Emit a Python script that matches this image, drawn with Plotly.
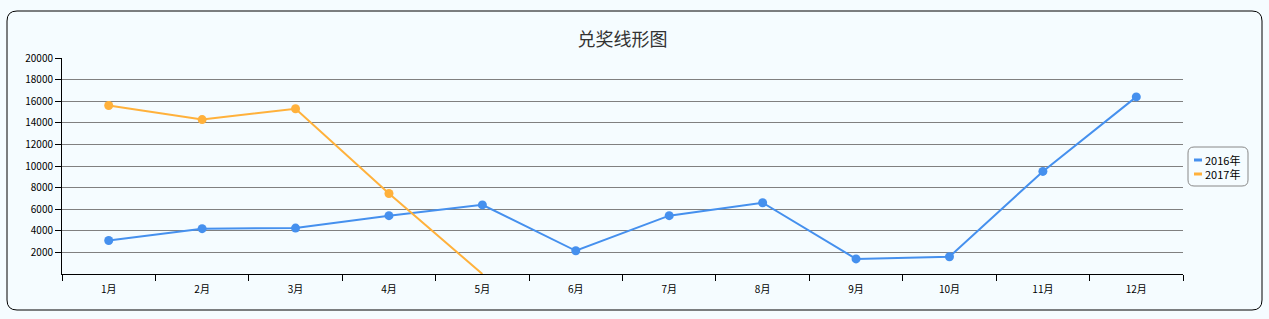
import plotly.graph_objects as go

months = ["1月", "2月", "3月", "4月", "5月", "6月", "7月", "8月", "9月", "10月", "11月", "12月"]
series_names = ["2016年", "2017年"]
values_2016 = [3100, 4200, 4250, 5400, 6400, 2150, 5400, 6600, 1400, 1600, 9500, 16400]
values_2017 = [15600, 14300, 15300, 7450, 0, None, None, None, None, None, None, None]
y_ticks = [2000, 4000, 6000, 8000, 10000, 12000, 14000, 16000, 18000, 20000]

W, H = 1269, 319
L, R, T, B = 62, 1183, 58, 274  # plot area in px

BLUE = "#4590EE"
ORANGE = "#FFB13B"
BG = "#F5FCFF"
FONT = "Noto Sans CJK SC, DejaVu Sans, sans-serif"
colors = [BLUE, ORANGE]

fig = go.Figure()
for name, vals, color in zip(series_names, [values_2016, values_2017], colors):
    # marker hidden where the point sits on the axis (clipped in the original)
    sizes = [9 if (v is not None and v > 0) else 0 for v in vals]
    fig.add_trace(go.Scatter(
        x=months, y=vals, name=name, mode="lines+markers", showlegend=False,
        line=dict(color=color, width=2),
        marker=dict(color=color, size=sizes, opacity=1, line=dict(width=0)),
    ))

def px(x):
    return (x - L) / (R - L)

def py(y):
    return (B - y) / (B - T)

def rounded(x0, y0, x1, y1, r):
    return (
        f"M {px(x0 + r)} {py(y0)} L {px(x1 - r)} {py(y0)} "
        f"Q {px(x1)} {py(y0)} {px(x1)} {py(y0 + r)} "
        f"L {px(x1)} {py(y1 - r)} Q {px(x1)} {py(y1)} {px(x1 - r)} {py(y1)} "
        f"L {px(x0 + r)} {py(y1)} Q {px(x0)} {py(y1)} {px(x0)} {py(y1 - r)} "
        f"L {px(x0)} {py(y0 + r)} Q {px(x0)} {py(y0)} {px(x0 + r)} {py(y0)} Z"
    )

LEG_TOP, LEG_STEP = 160, 14
shapes = [
    dict(type="path", xref="paper", yref="paper", path=rounded(7, 11, 1262, 310, 10),
         line=dict(color="#000", width=1), layer="below"),
    dict(type="path", xref="paper", yref="paper",
         path=rounded(1188, LEG_TOP - 13, 1248, LEG_TOP + LEG_STEP + 12, 6),
         line=dict(color="#888", width=1), layer="below"),
]
for i, color in enumerate(colors):
    yy = LEG_TOP + LEG_STEP * i
    shapes.append(dict(type="line", xref="paper", yref="paper",
                       x0=px(1194), x1=px(1202), y0=py(yy), y1=py(yy),
                       line=dict(color=color, width=3)))
annotations = [dict(text="<br>".join(series_names), xref="paper", yref="paper",
                    x=px(1203), y=py(LEG_TOP + LEG_STEP / 2), xanchor="left", yanchor="middle",
                    align="left", showarrow=False,
                    font=dict(family=FONT, size=11, color="#000"))]

fig.update_layout(
    width=W, height=H,
    margin=dict(l=L, r=W - R, t=T, b=H - B, pad=0, autoexpand=False),
    paper_bgcolor=BG, plot_bgcolor=BG,
    font=dict(family=FONT, size=10, color="#000"),
    title=dict(text="兑奖线形图", x=(L + R) / 2 / W, xanchor="center",
               y=1 - 40 / H, yanchor="middle",
               font=dict(family=FONT, size=18, color="#333")),
    showlegend=False,
    shapes=shapes,
    annotations=annotations,
)
fig.update_xaxes(
    type="category", range=[-0.5, 11.5], showgrid=False, showline=True, linecolor="#000", linewidth=1,
    ticks="outside", tickson="boundaries", ticklen=6, tickcolor="#000",
    tickfont=dict(size=10), ticklabelstandoff=6, zeroline=False, fixedrange=True,
)
fig.update_yaxes(
    range=[0, 20000], tickvals=y_ticks, tickformat="d", showgrid=True, gridcolor="#808080", gridwidth=1,
    showline=True, linecolor="#000", linewidth=1, ticks="outside", ticklen=6,
    tickcolor="#000", tickfont=dict(size=10), zeroline=False, fixedrange=True,
)

fig.write_html("out.html")
